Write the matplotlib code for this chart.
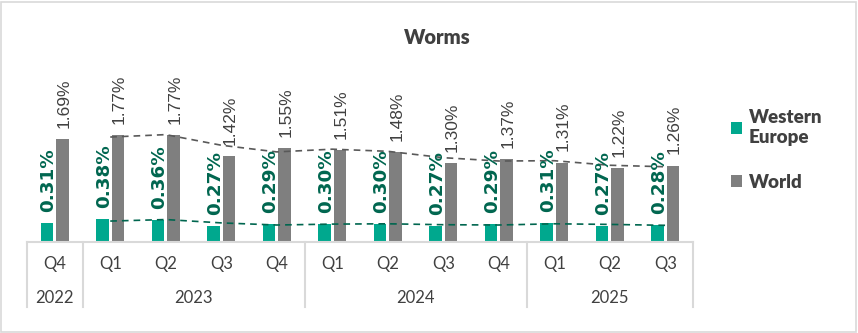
import numpy as np
import matplotlib.pyplot as plt
from matplotlib.patches import Rectangle

# data
quarters = ["Q4", "Q1", "Q2", "Q3", "Q4", "Q1", "Q2", "Q3", "Q4", "Q1", "Q2", "Q3"]
years = ["2022", "2023", "2024", "2025"]
year_counts = [1, 4, 4, 3]
western_europe = [0.31, 0.38, 0.36, 0.27, 0.29, 0.30, 0.30, 0.27, 0.29, 0.31, 0.27, 0.28]
world = [1.69, 1.77, 1.77, 1.42, 1.55, 1.51, 1.48, 1.30, 1.37, 1.31, 1.22, 1.26]

TEAL = "#00a88e"
GREY = "#7f7f7f"
DARK_GREEN = "#00664f"
TEXT = "#404040"
LINE = "#d9d9d9"

W, H = 858, 333
fig = plt.figure(figsize=(W / 100, H / 100), dpi=100)
ax = fig.add_axes([27 / W, (H - 242) / H, (693 - 27) / W, (242 - 60) / H])

x = np.arange(len(quarters))
bw = 0.23
off = 0.14
ax.bar(x - off, western_europe, bw, color=TEAL, label="Western\nEurope")
ax.bar(x + off, world, bw, color=GREY, label="World")

# value labels
for xi, v in zip(x, western_europe):
    ax.annotate(f"{v:.2f}%", (xi - off, v), xytext=(1, 8), textcoords="offset points",
                rotation=90, ha="center", va="bottom", fontsize=13.2,
                fontweight="bold", color=DARK_GREEN, family="DejaVu Sans Condensed")
for xi, v in zip(x, world):
    ax.annotate(f"{v:.2f}%", (xi + off, v), xytext=(1, 8), textcoords="offset points",
                rotation=90, ha="center", va="bottom", fontsize=12.5, color=TEXT,
                family="Liberation Sans")

# 2-period moving average trend lines
we_ma = np.convolve(western_europe, np.ones(2) / 2, mode="valid")
wo_ma = np.convolve(world, np.ones(2) / 2, mode="valid")
ax.plot(x[1:], we_ma, ls=(0, (4, 3)), color=DARK_GREEN, lw=1.2)
ax.plot(x[1:], wo_ma, ls=(0, (4, 3)), color="#595959", lw=1.2)

ax.set_xlim(-0.5, len(quarters) - 0.5)
ax.set_ylim(0, 3.0)
for s in ax.spines.values():
    s.set_visible(False)
ax.set_yticks([])
ax.set_xticks([])

# multi-level category axis
tr = ax.get_xaxis_transform()
ax.plot([-0.5, len(quarters) - 0.5], [0, 0], color=LINE, lw=1.5, transform=tr, clip_on=False)
for xi, q in zip(x, quarters):
    ax.text(xi, -0.12, q, transform=tr, ha="center", va="center",
            fontsize=12, color=TEXT, family="Lato")
start = -0.5
bounds = [start]
for yr, n in zip(years, year_counts):
    ax.text(start + n / 2, -0.31, yr, transform=tr, ha="center", va="center",
            fontsize=12, color=TEXT, family="Lato")
    start += n
    bounds.append(start)
for b in bounds:
    ax.plot([b, b], [0, -0.357], color=LINE, lw=1.5, transform=tr, clip_on=False)

fig.text(0.51, 1 - 37 / H, "Worms", ha="center", va="center", fontsize=14.5,
         fontweight="heavy", color=TEXT, family="Lato")

leg = ax.legend(loc="upper left", bbox_to_anchor=(714 / W, 1 - 92 / H),
                bbox_transform=fig.transFigure, frameon=False,
                handlelength=0.6, handleheight=0.6, handletextpad=0.35,
                labelspacing=1.5, prop={"family": "Lato", "weight": "heavy", "size": 13.5})
for t in leg.get_texts():
    t.set_color(TEXT)

fig.patches.append(Rectangle((1 / W, 1 / H), (W - 3) / W, (H - 3) / H,
                             transform=fig.transFigure, fill=False,
                             edgecolor=LINE, lw=1.2))

fig.savefig("out.png", dpi=100)
